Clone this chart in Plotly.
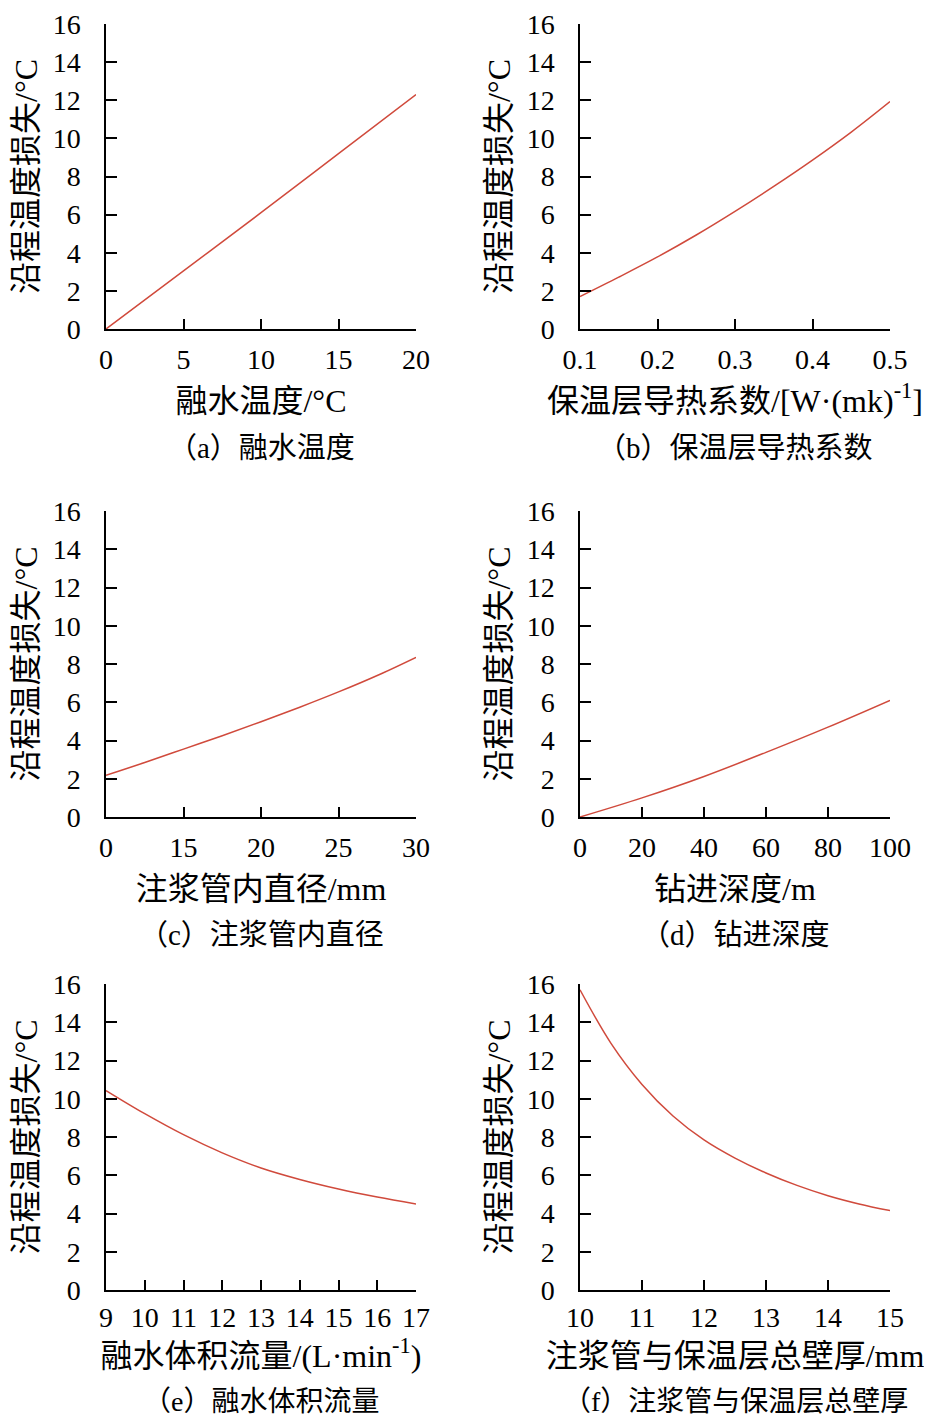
import plotly.graph_objects as go
from plotly.subplots import make_subplots

# 数据
a_x = [0, 5, 10, 15, 20]
a_y = [0, 3.05, 6.1, 9.2, 12.3]

b_x = [0.1, 0.15, 0.2, 0.25, 0.3, 0.35, 0.4, 0.45, 0.5]
b_y = [1.7, 2.72, 3.78, 4.93, 6.17, 7.48, 8.86, 10.33, 11.93]

c_x = [10, 12.5, 15, 17.5, 20, 22.5, 25, 27.5, 30]
c_y = [2.18, 2.85, 3.55, 4.25, 4.98, 5.74, 6.54, 7.4, 8.35]
c_ticks = [10, 15, 20, 25, 30]
c_ticktext = ['0', '15', '20', '25', '30']

d_x = [0, 20, 40, 60, 80, 100]
d_y = [0, 1.0, 2.12, 3.38, 4.7, 6.1]

e_x = [9, 10, 11, 12, 13, 14, 15, 16, 17]
e_y = [10.43, 9.22, 8.12, 7.17, 6.38, 5.78, 5.28, 4.86, 4.5]

f_x = [10, 10.5, 11, 11.5, 12, 12.5, 13, 13.5, 14, 14.5, 15]
f_y = [15.7, 12.9, 10.75, 9.1, 7.85, 6.9, 6.12, 5.47, 4.93, 4.5, 4.15]

y_ticks = [0, 2, 4, 6, 8, 10, 12, 14, 16]

x_titles = ['融水温度/°C', '保温层导热系数/[W·(mk)<sup>-1</sup>]',
            '注浆管内直径/mm', '钻进深度/m',
            '融水体积流量/(L·min<sup>-1</sup>)', '注浆管与保温层总壁厚/mm']
captions = ['（a）融水温度', '（b）保温层导热系数', '（c）注浆管内直径',
            '（d）钻进深度', '（e）融水体积流量', '（f）注浆管与保温层总壁厚']
y_title = '沿程温度损失/°C'

FONT = 'Liberation Serif, Times New Roman, Noto Sans CJK SC'
RED = '#d04a3c'

fig = make_subplots(rows=3, cols=2)

series = [(a_x, a_y), (b_x, b_y), (c_x, c_y), (d_x, d_y), (e_x, e_y), (f_x, f_y)]
x_ranges = [[0, 20], [0.1, 0.5], [10, 30], [0, 100], [9, 17], [10, 15]]
x_tickvals = [[0, 5, 10, 15, 20], [0.1, 0.2, 0.3, 0.4, 0.5], c_ticks,
              [0, 20, 40, 60, 80, 100], list(range(9, 18)), list(range(10, 16))]
x_ticktext = [None, ['0.1', '0.2', '0.3', '0.4', '0.5'], c_ticktext, None, None, None]

# 版面位置（页面像素，页面默认有 8px 边距）
OFF = 8
W, H = 932 - 2 * OFF, 1424 - 2 * OFF
col_px = [(106, 416), (580, 890)]
row_px = [(24, 329), (511, 817), (984, 1290)]
cap_gap = [119, 118, 111]
lab_pad = [5, 5, 2]
title_pad = [15, 15, 12]
ytitle_pad = [31, 6]

for i, (xs, ys) in enumerate(series):
    r, c = i // 2 + 1, i % 2 + 1
    fig.add_trace(go.Scatter(x=xs, y=ys, mode='lines', line=dict(color=RED, width=1.5, shape='spline'),
                             showlegend=False), row=r, col=c)
    x0, x1 = [v - OFF for v in col_px[c - 1]]
    y0, y1 = [v - OFF for v in row_px[r - 1]]
    fig.update_xaxes(domain=[x0 / W, x1 / W], range=x_ranges[i], tickmode='array', automargin=False,
                     tickvals=x_tickvals[i], ticktext=x_ticktext[i], ticks='',
                     minor=dict(tickmode='array', tickvals=x_tickvals[i][1:-1], ticks='inside',
                                ticklen=10, tickcolor='black', tickwidth=1.5, showgrid=False),
                     showline=True, linecolor='black', linewidth=1.5, showgrid=False, zeroline=False,
                     tickfont=dict(size=28, color='black', family=FONT), ticklabelstandoff=lab_pad[r - 1],
                     title=dict(text=x_titles[i], font=dict(size=32, color='black', family=FONT),
                                standoff=title_pad[r - 1]),
                     row=r, col=c)
    fig.update_yaxes(domain=[1 - y1 / H, 1 - y0 / H], range=[0, 16], tickmode='array', automargin=False,
                     tickvals=y_ticks, ticks='',
                     minor=dict(tickmode='array', tickvals=y_ticks[1:-1], ticks='inside',
                                ticklen=11, tickcolor='black', tickwidth=1.5, showgrid=False),
                     showline=True, linecolor='black', linewidth=1.5, showgrid=False, zeroline=False,
                     tickfont=dict(size=28, color='black', family=FONT), ticklabelstandoff=18,
                     title=dict(text=y_title, font=dict(size=32, color='black', family=FONT),
                                standoff=ytitle_pad[c - 1]),
                     row=r, col=c)
    fig.add_annotation(text=captions[i], xref='paper', yref='paper',
                       x=(x0 + x1) / 2 / W, y=1 - (y1 + cap_gap[r - 1]) / H, xanchor='center', yanchor='middle',
                       showarrow=False, font=dict(size=29 if r < 3 else 28, color='black', family=FONT))

fig.update_layout(width=W, height=H, margin=dict(l=0, r=0, t=0, b=0),
                  paper_bgcolor='white', plot_bgcolor='white', font=dict(family=FONT, color='black'))

fig.write_html('out.html')
